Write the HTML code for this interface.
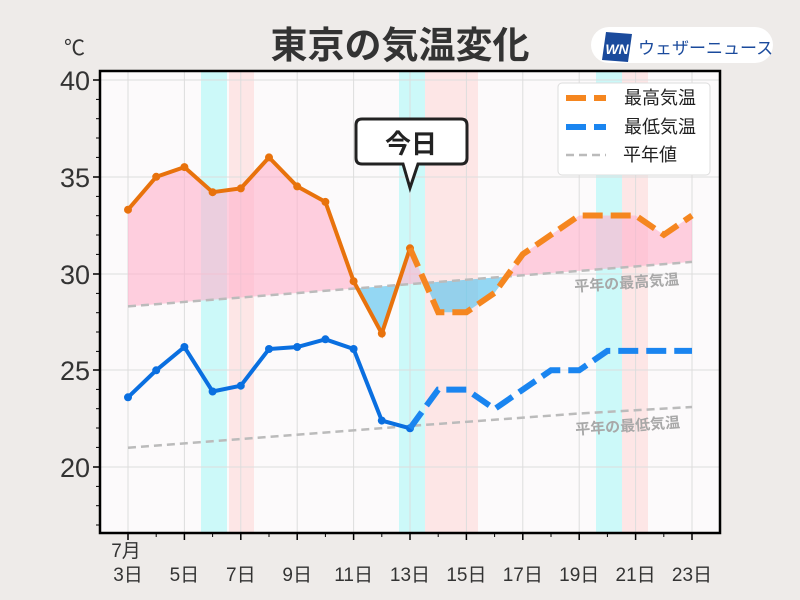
<!DOCTYPE html>
<html><head><meta charset="utf-8"><style>
body{margin:0;background:#eeebe9;}
svg{display:block;font-family:"Liberation Sans","Noto Sans CJK JP",sans-serif;}
</style></head><body>
<svg width="800" height="600" viewBox="0 0 800 600">
<rect width="800" height="600" fill="#eeebe9"/>
<text x="400" y="58" font-size="37" font-weight="bold" text-anchor="middle" fill="#333">東京の気温変化</text>
<text x="64" y="55" font-size="21" fill="#333">℃</text>
<rect x="591" y="27" width="182" height="36" rx="18" fill="#fff"/>
<polygon points="606,32 632,34 628,62 602,60" fill="#1a4a9c"/>
<text x="617" y="54" font-size="14" font-weight="bold" font-style="italic" fill="#fff" text-anchor="middle">WN</text>
<text x="638" y="54" font-size="17" fill="#1a4a9c">ウェザーニュース</text>
<rect x="100" y="71" width="620" height="462" fill="#fcfafb"/>
<g fill="#ccf9f9"><rect x="201" y="72" width="26" height="460"/><rect x="399" y="72" width="26" height="460"/><rect x="596" y="72" width="26" height="460"/></g>
<g fill="#fde6e6"><rect x="229" y="72" width="25" height="460"/><rect x="425" y="72" width="53" height="460"/><rect x="622" y="72" width="26" height="460"/></g>
<g stroke="#ddd" stroke-width="1">
<line x1="128" y1="72" x2="128" y2="532"/><line x1="184.4" y1="72" x2="184.4" y2="532"/><line x1="240.8" y1="72" x2="240.8" y2="532"/><line x1="297.2" y1="72" x2="297.2" y2="532"/><line x1="353.6" y1="72" x2="353.6" y2="532"/><line x1="410" y1="72" x2="410" y2="532"/><line x1="466.4" y1="72" x2="466.4" y2="532"/><line x1="522.8" y1="72" x2="522.8" y2="532"/><line x1="579.2" y1="72" x2="579.2" y2="532"/><line x1="635.6" y1="72" x2="635.6" y2="532"/><line x1="692" y1="72" x2="692" y2="532"/>
<line x1="100" y1="80" x2="720" y2="80"/><line x1="100" y1="177" x2="720" y2="177"/><line x1="100" y1="274" x2="720" y2="274"/><line x1="100" y1="370" x2="720" y2="370"/><line x1="100" y1="467" x2="720" y2="467"/>
</g>
<g fill="#ffb0cb" fill-opacity="0.6">
<polygon points="128,209.7 156.2,176.8 184.4,167.1 212.6,192.2 240.8,188.4 269,157.4 297.2,186.4 325.4,201.9 353.6,281.2 357.4,288.3 325.4,290.8 297.2,293 269,295.3 240.8,297.5 212.6,299.7 184.4,301.9 156.2,304.2 128,306.4"/>
<polygon points="397.8,285.1 410,248.3 425.3,282.9"/>
<polygon points="506.5,276.6 522.8,254.2 551,234.8 579.2,215.5 607.4,215.5 635.6,215.5 663.8,234.8 692,215.5 692,261.9 635.6,266.4 579.2,270.9 522.8,275.2"/>
</g>
<g fill="#5cc4ee" fill-opacity="0.65">
<polygon points="357.4,288.3 381.8,333.5 397.8,285.1 381.8,286.4"/>
<polygon points="425.3,282.9 438.2,312.2 466.4,312.2 494.6,292.9 506.5,276.6 494.6,277.5 466.4,279.7 438.2,281.9"/>
</g>
<g stroke="#bbb" stroke-width="2.5" stroke-dasharray="8,5" fill="none">
<polyline points="128,306.4 240.8,297.5 410,284.1 579.2,270.9 692,261.9"/>
<polyline points="128,447.7 240.8,439 410,426 579.2,413.5 692,407"/>
</g>
<text x="627" y="288" font-size="15" font-weight="bold" fill="#a8a8a8" text-anchor="middle" transform="rotate(-4 627 288)">平年の最高気温</text>
<text x="628" y="431" font-size="15" font-weight="bold" fill="#a8a8a8" text-anchor="middle" transform="rotate(-4 628 431)">平年の最低気温</text>
<polyline points="128,209.7 156.2,176.8 184.4,167.1 212.6,192.2 240.8,188.4 269,157.4 297.2,186.4 325.4,201.9 353.6,281.2 381.8,333.5 410,248.3" fill="none" stroke="#e8720c" stroke-width="4"/>
<g fill="#e8720c"><circle cx="128" cy="209.7" r="4"/><circle cx="156.2" cy="176.8" r="4"/><circle cx="184.4" cy="167.1" r="4"/><circle cx="212.6" cy="192.2" r="4"/><circle cx="240.8" cy="188.4" r="4"/><circle cx="269" cy="157.4" r="4"/><circle cx="297.2" cy="186.4" r="4"/><circle cx="325.4" cy="201.9" r="4"/><circle cx="353.6" cy="281.2" r="4"/><circle cx="381.8" cy="333.5" r="4"/><circle cx="410" cy="248.3" r="4"/></g>
<polyline points="410,248.3 438.2,312.2 466.4,312.2 494.6,292.9 522.8,254.2 551,234.8 579.2,215.5 607.4,215.5 635.6,215.5 663.8,234.8 692,215.5" fill="none" stroke="#f5861f" stroke-width="6" stroke-dasharray="20,8"/>
<polyline points="128,397.3 156.2,370.3 184.4,347 212.6,391.5 240.8,385.7 269,349 297.2,347 325.4,339.3 353.6,349 381.8,420.6 410,428.3" fill="none" stroke="#0a6fe0" stroke-width="4"/>
<g fill="#0a6fe0"><circle cx="128" cy="397.3" r="4"/><circle cx="156.2" cy="370.3" r="4"/><circle cx="184.4" cy="347" r="4"/><circle cx="212.6" cy="391.5" r="4"/><circle cx="240.8" cy="385.7" r="4"/><circle cx="269" cy="349" r="4"/><circle cx="297.2" cy="347" r="4"/><circle cx="325.4" cy="339.3" r="4"/><circle cx="353.6" cy="349" r="4"/><circle cx="381.8" cy="420.6" r="4"/><circle cx="410" cy="428.3" r="4"/></g>
<polyline points="410,428.3 438.2,389.6 466.4,389.6 494.6,409 522.8,389.6 551,370.3 579.2,370.3 607.4,350.9 635.6,350.9 663.8,350.9 692,350.9" fill="none" stroke="#1a85f0" stroke-width="6" stroke-dasharray="20,8"/>
<rect x="100" y="71" width="620" height="462" fill="none" stroke="#000" stroke-width="2.5"/>
<g stroke="#000" stroke-width="1.5">
<line x1="93" y1="80" x2="100" y2="80"/><line x1="93" y1="177" x2="100" y2="177"/><line x1="93" y1="274" x2="100" y2="274"/><line x1="93" y1="370" x2="100" y2="370"/><line x1="93" y1="467" x2="100" y2="467"/>
<line x1="128" y1="533" x2="128" y2="540"/><line x1="184.4" y1="533" x2="184.4" y2="540"/><line x1="240.8" y1="533" x2="240.8" y2="540"/><line x1="297.2" y1="533" x2="297.2" y2="540"/><line x1="353.6" y1="533" x2="353.6" y2="540"/><line x1="410" y1="533" x2="410" y2="540"/><line x1="466.4" y1="533" x2="466.4" y2="540"/><line x1="522.8" y1="533" x2="522.8" y2="540"/><line x1="579.2" y1="533" x2="579.2" y2="540"/><line x1="635.6" y1="533" x2="635.6" y2="540"/><line x1="692" y1="533" x2="692" y2="540"/>
</g>
<g stroke="#000" stroke-width="1">
<line x1="96" y1="99.4" x2="100" y2="99.4"/><line x1="96" y1="118.7" x2="100" y2="118.7"/><line x1="96" y1="138" x2="100" y2="138"/><line x1="96" y1="157.4" x2="100" y2="157.4"/>
<line x1="96" y1="196.4" x2="100" y2="196.4"/><line x1="96" y1="215.7" x2="100" y2="215.7"/><line x1="96" y1="235" x2="100" y2="235"/><line x1="96" y1="254.4" x2="100" y2="254.4"/>
<line x1="96" y1="293.4" x2="100" y2="293.4"/><line x1="96" y1="312.7" x2="100" y2="312.7"/><line x1="96" y1="332" x2="100" y2="332"/><line x1="96" y1="351.4" x2="100" y2="351.4"/>
<line x1="96" y1="389.4" x2="100" y2="389.4"/><line x1="96" y1="408.7" x2="100" y2="408.7"/><line x1="96" y1="428" x2="100" y2="428"/><line x1="96" y1="447.4" x2="100" y2="447.4"/>
<line x1="96" y1="486.4" x2="100" y2="486.4"/><line x1="96" y1="505.7" x2="100" y2="505.7"/><line x1="96" y1="525" x2="100" y2="525"/>
<line x1="156.2" y1="533" x2="156.2" y2="537"/><line x1="212.6" y1="533" x2="212.6" y2="537"/><line x1="269" y1="533" x2="269" y2="537"/><line x1="325.4" y1="533" x2="325.4" y2="537"/><line x1="381.8" y1="533" x2="381.8" y2="537"/><line x1="438.2" y1="533" x2="438.2" y2="537"/><line x1="494.6" y1="533" x2="494.6" y2="537"/><line x1="551" y1="533" x2="551" y2="537"/><line x1="607.4" y1="533" x2="607.4" y2="537"/><line x1="663.8" y1="533" x2="663.8" y2="537"/>
</g>
<g font-size="27" fill="#333" text-anchor="end"><text x="90" y="90">40</text><text x="90" y="187">35</text><text x="90" y="284">30</text><text x="90" y="380">25</text><text x="90" y="477">20</text></g>
<g font-size="19" fill="#333" text-anchor="middle">
<text x="126" y="557">7月</text>
<text x="128" y="581">3日</text><text x="184.4" y="581">5日</text><text x="240.8" y="581">7日</text><text x="297.2" y="581">9日</text><text x="353.6" y="581">11日</text><text x="410" y="581">13日</text><text x="466.4" y="581">15日</text><text x="522.8" y="581">17日</text><text x="579.2" y="581">19日</text><text x="635.6" y="581">21日</text><text x="692" y="581">23日</text>
</g>
<rect x="558" y="83" width="152" height="92" rx="4" fill="#fff" stroke="#ddd"/>
<line x1="566" y1="98" x2="606" y2="98" stroke="#f5861f" stroke-width="6" stroke-dasharray="20,8"/>
<line x1="566" y1="127" x2="606" y2="127" stroke="#1a85f0" stroke-width="6" stroke-dasharray="20,8"/>
<line x1="566" y1="155" x2="606" y2="155" stroke="#bbb" stroke-width="2.5" stroke-dasharray="8,5"/>
<g font-size="18" fill="#222"><text x="624" y="104">最高気温</text><text x="624" y="133">最低気温</text><text x="623" y="161">平年値</text></g>
<path d="M362,119 H461 Q467,119 467,125 V158 Q467,164 461,164 H418 L410,188 L403,164 H362 Q356,164 356,158 V125 Q356,119 362,119 Z" fill="#fff" stroke="#222" stroke-width="3"/>
<text x="411" y="153" font-size="26" font-weight="bold" text-anchor="middle" fill="#222">今日</text>
</svg>
</body></html>
